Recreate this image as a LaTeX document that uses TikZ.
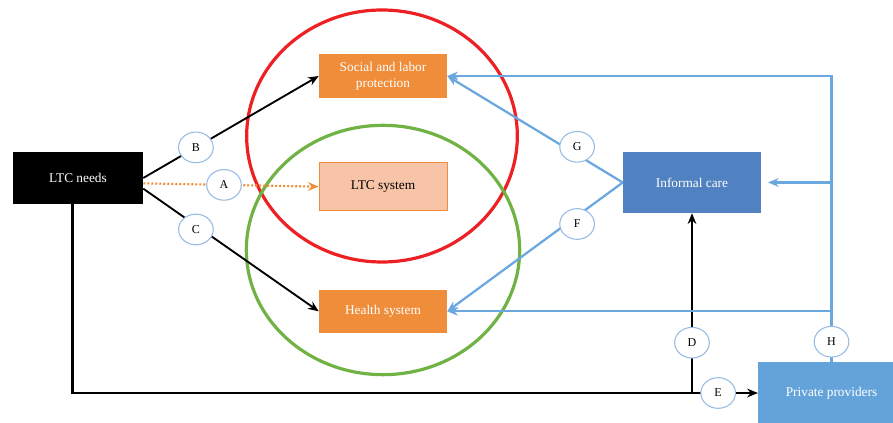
\documentclass[tikz,border=0pt]{standalone}
\usepackage{fontspec}
\setmainfont{Liberation Serif}
\usetikzlibrary{shapes.geometric,positioning,arrows.meta}

\definecolor{boxorange}{RGB}{239,141,58}
\definecolor{paleorange}{RGB}{248,196,168}
\definecolor{careblue}{RGB}{80,130,193}
\definecolor{provblue}{RGB}{100,163,218}
\definecolor{linkblue}{RGB}{108,168,224}
\definecolor{ringred}{RGB}{237,32,36}
\definecolor{ringgreen}{RGB}{112,178,68}
\definecolor{letterblue}{RGB}{150,188,228}

\begin{document}
\begin{tikzpicture}[x=0.75pt,y=-0.75pt,>={Stealth[length=8pt,width=6.5pt]},on grid,
    box/.style={rectangle, minimum width=96pt, minimum height=33pt, align=center},
    letter/.style={ellipse, draw=letterblue, fill=white, solid, line width=0.8pt,
        minimum width=26pt, minimum height=23pt, inner sep=0pt, font=\small},
    ring/.style={ellipse, line width=2.4pt, inner sep=0pt},
    blackarrow/.style={->, line width=1.4pt},
    bluearrow/.style={->, draw=linkblue, line width=1.7pt}]
            \useasboundingbox (0,0) rectangle (893,423);
            % the two overlapping systems
            \node[ring, draw=ringred, minimum width=203pt, minimum height=189pt](protring) at (382,136){};
            \node[ring, draw=ringgreen, minimum width=205pt, minimum height=187pt](healthring) at (383,250){};
            \node[box, fill=black, text=white, minimum width=97.5pt, minimum height=39pt](needs) at (78,178){LTC needs};
            \node[box, fill=boxorange, text=white](social) at (383,76){Social and labor\\protection};
            \node[box, fill=paleorange, draw=boxorange, minimum height=36pt, below=83pt of social](ltcsys){LTC system};
            \node[box, fill=boxorange, text=white, minimum height=32pt, below=93.5pt of ltcsys](health){Health system};
            \node[box, fill=careblue, text=white, minimum width=103.5pt, minimum height=45.75pt](informal) at (692,182.5){Informal care};
            \node[box, fill=provblue, text=white, minimum width=110pt, minimum height=46.5pt](private) at (831.5,393){Private providers};
            % links from the needs
            \draw[blackarrow] (needs.east) -- node[letter, pos=0.3]{B} (social.west);
            \draw[->, draw=boxorange, line width=1.6pt, dash pattern=on 1.5pt off 1.5pt]
                ([yshift=-4pt]needs.east) -- node[letter, pos=0.46]{A} (ltcsys.west);
            \draw[blackarrow] ([yshift=-8pt]needs.east) -- node[letter, pos=0.3, yshift=-3pt]{C} (health.west);
            \draw[blackarrow, line width=2pt] ([xshift=-4pt]needs.south) |- node[letter, pos=0.971]{E} (private.west);
            \draw[blackarrow, line width=2pt] (informal.south |- private.west) -- node[letter, pos=0.28]{D} (informal.south);
            % informal care and private providers
            \draw[bluearrow] (informal.west) -- node[letter, pos=0.26, yshift=6pt]{G} (social.east);
            \draw[bluearrow] (informal.west) -- node[letter, pos=0.26, yshift=-6pt]{F} (health.east);
            \draw[bluearrow] (private.north) -- node[letter, pos=0.07]{H} (private.north |- social.east) -- (social.east);
            \draw[bluearrow, shorten >=5pt] (private.north |- informal.east) -- (informal.east);
            \draw[bluearrow] (private.north |- health.east) -- (health.east);
        \end{tikzpicture}
\end{document}
